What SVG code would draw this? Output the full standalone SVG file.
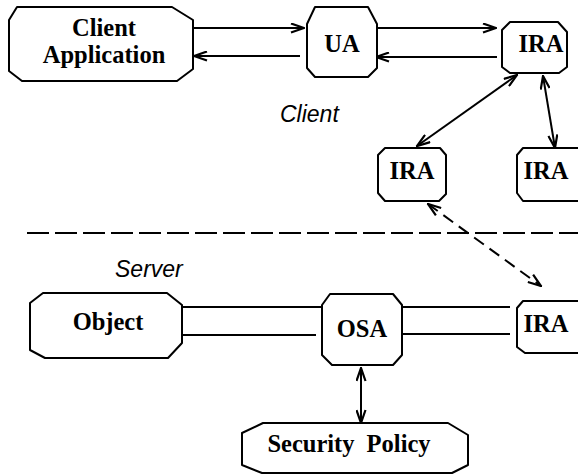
<svg xmlns="http://www.w3.org/2000/svg" width="578" height="476" viewBox="0 0 578 476">
  <defs>
    <style>
      .box { fill: #fff; stroke: #000; stroke-width: 2; stroke-linejoin: round; }
      .lbl { font-family: "Liberation Serif", "Times New Roman", serif; font-weight: bold; font-size: 24.5px; fill: #000; text-anchor: middle; }
      .side { font-family: "Liberation Sans", Arial, sans-serif; font-style: italic; font-size: 23px; fill: #000; }
      .ln { fill: none; stroke: #000; stroke-width: 2; }
      .dash { stroke-dasharray: 22 6; }
      .dashd { stroke-dasharray: 12 7; }
    </style>
    <marker id="head" viewBox="0 0 15 11" refX="14" refY="5.5" markerWidth="15" markerHeight="11" markerUnits="userSpaceOnUse" orient="auto-start-reverse">
      <path d="M1,1 L14,5.5 L1,10" fill="none" stroke="#000" stroke-width="2.2" stroke-linejoin="miter"/>
    </marker>
  </defs>

  <!-- zone labels and boundary -->
  <text class="side" x="280" y="122">Client</text>
  <text class="side" x="115" y="277">Server</text>
  <line class="ln dash" x1="27" y1="233" x2="578" y2="233"/>

  <g id="connectors">
    <!-- Client Application <-> UA -->
    <line class="ln" x1="193" y1="28" x2="304" y2="28" marker-end="url(#head)"/>
    <line class="ln" x1="300" y1="56" x2="194" y2="56" marker-end="url(#head)"/>
    <!-- UA <-> IRA -->
    <line class="ln" x1="377" y1="28" x2="496" y2="28" marker-end="url(#head)"/>
    <line class="ln" x1="497" y1="57" x2="376" y2="57" marker-end="url(#head)"/>
    <!-- IRA fan-out -->
    <line class="ln" x1="517" y1="75" x2="417" y2="146" marker-start="url(#head)" marker-end="url(#head)"/>
    <line class="ln" x1="543" y1="76" x2="555" y2="148" marker-start="url(#head)" marker-end="url(#head)"/>
    <!-- IRA across the boundary -->
    <line class="ln dashd" x1="428" y1="204" x2="541" y2="286" marker-start="url(#head)" marker-end="url(#head)"/>
    <!-- Object <-> OSA <-> IRA -->
    <line class="ln" x1="182" y1="307" x2="327" y2="307"/>
    <line class="ln" x1="182" y1="335" x2="316" y2="335"/>
    <line class="ln" x1="403" y1="307" x2="510" y2="307"/>
    <line class="ln" x1="403" y1="334" x2="510" y2="334"/>
    <!-- OSA <-> Security Policy -->
    <line class="ln" x1="361" y1="368" x2="361" y2="423" marker-start="url(#head)" marker-end="url(#head)"/>
  </g>

  <g id="client-application">
    <polygon class="box" points="17,7 172,7 193,20 193,69 177,81 22,81 9,71 9,20"/>
    <text class="lbl" x="104" y="36">Client</text>
    <text class="lbl" x="104" y="63">Application</text>
  </g>

  <g id="ua">
    <polygon class="box" points="315,7 368,7 377,24 377,68 368,77 315,77 307,68 307,24"/>
    <text class="lbl" x="342" y="52">UA</text>
  </g>

  <g id="ira-top">
    <polygon class="box" points="510,22 558,22 567,32 567,67 559,73 510,73 502,67 502,30"/>
    <text class="lbl" x="541" y="52">IRA</text>
  </g>

  <g id="ira-left">
    <polygon class="box" points="385,148 440,148 446,155 446,194 439,201 385,201 378,193 378,155"/>
    <text class="lbl" x="412" y="179">IRA</text>
  </g>

  <g id="ira-right">
    <polygon class="box" points="523,148 584,148 584,201 523,201 517,193 517,155"/>
    <text class="lbl" x="546" y="179">IRA</text>
  </g>

  <g id="object">
    <polygon class="box" points="43,293 167,293 182,305 182,343 168,358 45,358 30,350 30,303"/>
    <text class="lbl" x="108" y="330">Object</text>
  </g>

  <g id="osa">
    <polygon class="box" points="330,294 393,294 402,305 402,355 393,365 332,365 322,355 322,305"/>
    <text class="lbl" x="362" y="337">OSA</text>
  </g>

  <g id="ira-server">
    <polygon class="box" points="523,301 584,301 584,353 525,353 517,347 517,308"/>
    <text class="lbl" x="546" y="332">IRA</text>
  </g>

  <g id="security-policy">
    <polygon class="box" points="263,423 448,423 468,435 468,465 452,473 262,473 242,465 242,433"/>
    <text class="lbl" x="349" y="452" style="word-spacing:6px">Security Policy</text>
  </g>
</svg>
